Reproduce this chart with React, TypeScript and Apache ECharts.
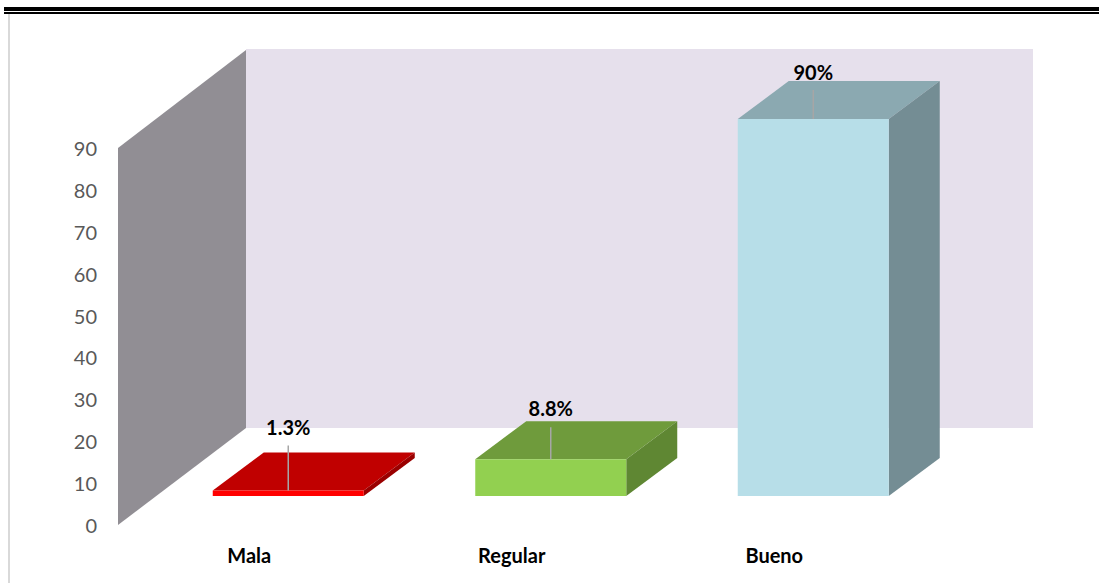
import React, { useEffect, useRef } from "react";
import * as echarts from "echarts";

const categories = ["Mala", "Regular", "Bueno"];
const values = [1.3, 8.8, 90];
const yTicks = [0, 10, 20, 30, 40, 50, 60, 70, 80, 90];
const frontColors = ["#FF0000", "#92D050", "#B7DEE8"];
const topColors = ["#C00000", "#6F9B3C", "#8BA9B1"];
const sideColors = ["#9A0000", "#5F8733", "#748D94"];
const labelLifts = [64, 51, 47];
const leaderTops = [45, 32, 29];

const BAR_WIDTH = 151;
const DEPTH_X = 51;
const DEPTH_Y = 38;
const FLOOR_RISE = 29;
const WALL_DEPTH_X = 128;
const WALL_DEPTH_Y = 97;
const WALL_INSET = 39;
const WALL_RIGHT = 1033;
const FONT = "Lato, 'Open Sans', sans-serif";

// Back wall and side wall of the 3D box, placed relative to the plot area.
function renderWalls(params: any, api: any) {
  const cs = params.coordSys;
  const bottom = api.coord([0, 0])[1];
  const top = api.coord([0, 90])[1];
  const x0 = cs.x - WALL_INSET;
  const x1 = x0 + WALL_DEPTH_X;
  return {
    type: "group",
    children: [
      {
        type: "rect",
        shape: { x: x1, y: top - WALL_DEPTH_Y - 2, width: WALL_RIGHT - x1, height: bottom - top + 2 },
        style: { fill: "#E6E0EC" },
      },
      {
        type: "polygon",
        shape: {
          points: [
            [x0, top],
            [x1, top - WALL_DEPTH_Y - 1],
            [x1, bottom - WALL_DEPTH_Y],
            [x0, bottom],
          ],
        },
        style: { fill: "#918E94" },
      },
    ],
  };
}

// One extruded column: front face, top face, side face, leader line and value label.
function renderBar(params: any, api: any) {
  const i = api.value(0);
  const v = api.value(1);
  const cx = api.coord([i, 0])[0];
  const base = api.coord([i, 0])[1] - FLOOR_RISE;
  const h = api.coord([i, 0])[1] - api.coord([i, v])[1];
  const top = base - h;
  const l = cx - BAR_WIDTH / 2;
  const r = cx + BAR_WIDTH / 2;
  return {
    type: "group",
    children: [
      {
        type: "polygon",
        shape: { points: [[l, top], [l + DEPTH_X, top - DEPTH_Y], [r + DEPTH_X, top - DEPTH_Y], [r, top]] },
        style: { fill: topColors[i] },
      },
      {
        type: "polygon",
        shape: { points: [[r, top], [r + DEPTH_X, top - DEPTH_Y], [r + DEPTH_X, base - DEPTH_Y], [r, base]] },
        style: { fill: sideColors[i] },
      },
      {
        type: "rect",
        shape: { x: l, y: top, width: BAR_WIDTH, height: h },
        style: { fill: frontColors[i] },
      },
      {
        type: "line",
        shape: { x1: cx, y1: top, x2: cx, y2: top - leaderTops[i] },
        style: { stroke: "#A6A6A6", lineWidth: 1.5 },
      },
      {
        type: "text",
        style: {
          x: cx,
          y: top - labelLifts[i],
          text: `${values[i]}%`,
          fill: "#000000",
          font: `bold 20px ${FONT}`,
          align: "center",
          verticalAlign: "middle",
        },
      },
    ],
  };
}

export default function App() {
  const ref = useRef<HTMLDivElement>(null);

  useEffect(() => {
    const chart = echarts.init(ref.current!, null, { renderer: "svg" });
    chart.setOption({
      animation: false,
      backgroundColor: "#FFFFFF",
      grid: { left: 157, right: 1099 - 944.5, top: 148, bottom: 58 },
      xAxis: {
        type: "category",
        data: categories,
        axisLine: { show: false },
        axisTick: { show: false },
        splitLine: { show: false },
        axisLabel: {
          color: "#000000",
          fontFamily: FONT,
          fontWeight: "bold",
          fontSize: 20,
          margin: 20,
          padding: [0, 78, 0, 0],
        },
      },
      yAxis: {
        type: "value",
        min: 0,
        max: yTicks[yTicks.length - 1],
        interval: 10,
        offset: 52,
        axisLine: { show: false },
        axisTick: { show: false },
        splitLine: { show: false },
        axisLabel: { color: "#595959", fontFamily: FONT, fontSize: 20, margin: 8 },
      },
      graphic: [
        { type: "rect", shape: { x: 4, y: 7, width: 1095, height: 4 }, style: { fill: "#000000" } },
        { type: "rect", shape: { x: 4, y: 12, width: 1095, height: 2 }, style: { fill: "#000000" } },
        { type: "rect", shape: { x: 8, y: 14, width: 2, height: 569 }, style: { fill: "#D9D9D9" } },
      ],
      series: [
        { type: "custom", silent: true, renderItem: renderWalls, data: [[0, 0]], encode: { x: 0, y: 1 } },
        {
          type: "custom",
          silent: true,
          renderItem: renderBar,
          data: values.map((v, i) => [i, v]),
          encode: { x: 0, y: 1 },
        },
      ],
    });
    return () => chart.dispose();
  }, []);

  return <div ref={ref} style={{ position: "fixed", left: 0, top: 0, width: 1099, height: 583 }} />;
}
